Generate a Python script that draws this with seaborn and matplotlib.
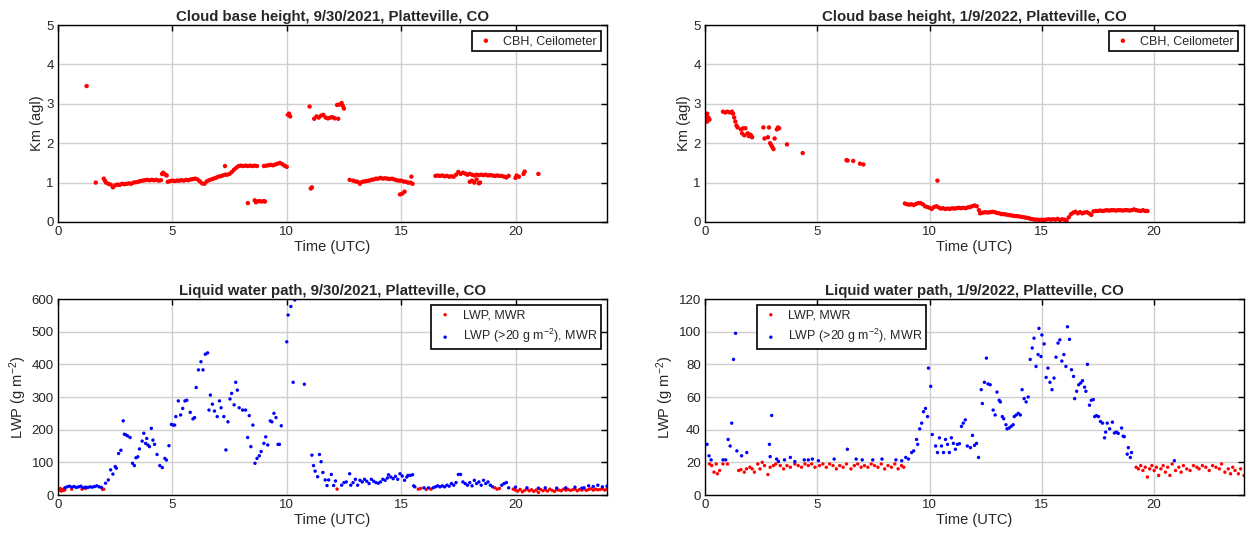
import pandas as pd
import matplotlib.pyplot as plt
import seaborn as sns

# ---- cloud base height, 9/30/2021 (hours UTC, km agl) ----
cbh1_time = [1.25, 1.65,
             2.0, 2.05, 2.1, 2.2, 2.3, 2.4, 2.5, 2.6, 2.7, 2.8, 2.9, 3.0, 3.1, 3.2, 3.3, 3.4, 3.5,
             3.6, 3.7, 3.8, 3.9, 4.0, 4.1, 4.2, 4.3, 4.4, 4.5, 4.55, 4.6, 4.7, 4.75, 4.8,
             4.9, 5.0, 5.1, 5.2, 5.3, 5.4, 5.5, 5.6, 5.7, 5.8, 5.9, 6.0, 6.1, 6.2, 6.3, 6.4,
             6.5, 6.6, 6.7, 6.8, 6.9, 7.0, 7.1, 7.2, 7.3, 7.3, 7.4, 7.5, 7.6, 7.7, 7.8, 7.9,
             8.0, 8.1, 8.2, 8.3, 8.4, 8.5, 8.6, 8.7,
             8.3, 8.6, 8.65, 8.7, 8.8, 8.9, 9.0, 9.05,
             9.0, 9.1, 9.2, 9.3, 9.4, 9.5, 9.6, 9.7, 9.8, 9.9, 10.0,
             10.05, 10.1, 10.15, 11.0, 11.05, 11.1,
             11.2, 11.3, 11.4, 11.5, 11.6, 11.7, 11.8, 11.9, 12.0, 12.1, 12.25,
             12.2, 12.3, 12.4, 12.45, 12.5,
             12.75, 12.9, 13.0, 13.1, 13.2, 13.3, 13.4, 13.5, 13.6, 13.7, 13.8, 13.9, 14.0,
             14.1, 14.2, 14.3, 14.4, 14.5, 14.6, 14.7, 14.8, 14.9, 15.0, 15.1, 15.2, 15.3,
             15.4, 15.5, 15.45, 14.95, 15.05, 15.15,
             16.5, 16.6, 16.7, 16.8, 16.9, 17.0, 17.1, 17.2, 17.3, 17.4, 17.5, 17.6, 17.7,
             17.8, 17.9, 18.0, 18.1, 18.2, 18.3, 18.4, 18.5, 18.6, 18.7, 18.8, 18.9, 19.0,
             19.1, 19.2, 19.3, 19.4, 19.5, 19.6, 19.7,
             18.0, 18.1, 18.2, 18.3, 18.4, 18.45,
             20.0, 20.05, 20.15, 20.35, 20.4, 21.0]
cbh1_km = [3.45, 1.0,
           1.1, 1.05, 1.0, 0.97, 0.95, 0.88, 0.93, 0.95, 0.94, 0.97, 0.96, 0.97, 0.98, 0.97, 1.0, 1.01, 1.02,
           1.04, 1.05, 1.06, 1.07, 1.06, 1.07, 1.06, 1.07, 1.05, 1.06, 1.22, 1.25, 1.2, 1.18, 1.02,
           1.04, 1.05, 1.04, 1.05, 1.05, 1.06, 1.05, 1.07, 1.06, 1.08, 1.09, 1.1, 1.08, 1.03, 0.98, 0.97,
           1.03, 1.06, 1.08, 1.1, 1.12, 1.15, 1.16, 1.18, 1.2, 1.42, 1.2, 1.22, 1.27, 1.33, 1.38, 1.42,
           1.43, 1.42, 1.43, 1.42, 1.43, 1.42, 1.43, 1.42,
           0.48, 0.55, 0.5, 0.52, 0.53, 0.52, 0.53, 0.52,
           1.42, 1.43, 1.44, 1.45, 1.44, 1.46, 1.48, 1.5, 1.47, 1.43, 1.4,
           2.72, 2.75, 2.68, 2.93, 0.85, 0.88,
           2.62, 2.68, 2.65, 2.7, 2.72, 2.65, 2.63, 2.65, 2.66, 2.63, 2.62,
           2.97, 2.98, 3.02, 2.95, 2.88,
           1.07, 1.05, 1.03, 1.02, 0.97, 1.02, 1.03, 1.04, 1.05, 1.07, 1.08, 1.1, 1.1,
           1.12, 1.1, 1.11, 1.1, 1.09, 1.1, 1.08, 1.06, 1.05, 1.05, 1.03, 1.02, 1.0,
           1.0, 0.97, 1.15, 0.7, 0.72, 0.77,
           1.17, 1.18, 1.17, 1.18, 1.16, 1.17, 1.15, 1.16, 1.15, 1.2, 1.27, 1.22, 1.25,
           1.23, 1.2, 1.22, 1.2, 1.18, 1.2, 1.19, 1.2, 1.19, 1.2, 1.18, 1.19, 1.18,
           1.17, 1.18, 1.17, 1.17, 1.15, 1.13, 1.17,
           1.02, 1.05, 1.0, 1.08, 0.98, 1.0,
           1.12, 1.18, 1.15, 1.22, 1.28, 1.22]

# ---- cloud base height, 1/9/2022 ----
cbh2_time = [0.0, 0.05, 0.1, 0.15, 0.2, 0.1,
             0.8, 0.9, 1.0, 1.1, 1.2, 1.25, 1.3, 1.35, 1.4, 1.45,
             1.6, 1.65, 1.7, 1.8, 1.75, 1.9, 1.95, 2.0, 2.05, 2.1,
             2.6, 2.65, 2.85, 2.8, 2.9, 2.95, 3.0, 3.05, 3.1, 3.2, 3.25, 3.3,
             3.65, 4.35, 6.3, 6.35, 6.6, 6.9, 7.05,
             8.9, 9.0, 9.1, 9.2, 9.3, 9.4, 9.5, 9.6, 9.7, 9.8, 9.9, 10.0, 10.1, 10.2, 10.3,
             10.35, 10.4, 10.5, 10.6, 10.7, 10.8, 10.9, 11.0, 11.1, 11.2, 11.3, 11.4, 11.5,
             11.6, 11.7, 11.8, 11.9, 12.0, 12.1, 12.2, 12.25, 12.3, 12.4, 12.5, 12.6, 12.7,
             12.8, 12.9, 13.0, 13.1, 13.2, 13.3, 13.4, 13.5, 13.6, 13.7, 13.8, 13.9, 14.0,
             14.1, 14.2, 14.3, 14.4, 14.5, 14.6, 14.7, 14.8, 14.9, 15.0, 15.1, 15.2, 15.3,
             15.4, 15.5, 15.6, 15.7, 15.8, 15.9, 16.0, 16.1, 16.2, 16.3, 16.4, 16.5, 16.6,
             16.7, 16.8, 16.9, 17.0, 17.1, 17.2, 17.3, 17.4, 17.5, 17.6, 17.7, 17.8, 17.9,
             18.0, 18.1, 18.2, 18.3, 18.4, 18.5, 18.6, 18.7, 18.8, 18.9, 19.0, 19.1, 19.2,
             19.3, 19.4, 19.5, 19.6, 19.7]
cbh2_km = [2.6, 2.7, 2.75, 2.65, 2.6, 2.55,
           2.8, 2.78, 2.8, 2.78, 2.8, 2.75, 2.65, 2.55, 2.45, 2.4,
           2.35, 2.25, 2.38, 2.38, 2.2, 2.25, 2.18, 2.22, 2.2, 2.15,
           2.4, 2.12, 2.4, 2.15, 2.0, 1.95, 1.9, 1.85, 2.12, 2.35, 2.4, 2.38,
           1.97, 1.75, 1.57, 1.56, 1.55, 1.48, 1.46,
           0.47, 0.45, 0.44, 0.45, 0.43, 0.46, 0.48, 0.48, 0.45, 0.4, 0.38, 0.36, 0.33, 0.38, 0.4,
           1.05, 0.37, 0.34, 0.35, 0.33, 0.34, 0.33, 0.35, 0.34, 0.35, 0.36, 0.35, 0.36,
           0.35, 0.37, 0.38, 0.4, 0.42, 0.4, 0.3, 0.22, 0.23, 0.24, 0.25, 0.24, 0.25,
           0.26, 0.25, 0.23, 0.22, 0.2, 0.2, 0.19, 0.18, 0.17, 0.16, 0.15, 0.15, 0.14,
           0.13, 0.12, 0.11, 0.1, 0.08, 0.07, 0.06, 0.06, 0.05, 0.06, 0.05, 0.06, 0.07,
           0.06, 0.07, 0.06, 0.08, 0.05, 0.07, 0.06, 0.04, 0.12, 0.2, 0.24, 0.26, 0.22,
           0.25, 0.22, 0.24, 0.25, 0.22, 0.18, 0.27, 0.28, 0.28, 0.29, 0.28, 0.29, 0.3,
           0.29, 0.3, 0.3, 0.29, 0.3, 0.3, 0.29, 0.3, 0.3, 0.29, 0.3, 0.32, 0.3,
           0.29, 0.28, 0.3, 0.28, 0.28]

# ---- liquid water path, 9/30/2021 (g m-2) ----
lwp1_red_time = [0.0, 0.05, 0.1, 0.15, 0.2, 0.25, 0.3, 0.6, 1.05, 1.2, 1.95, 2.0, 12.2,
                 15.75, 15.85, 16.1, 16.3, 19.1, 19.2, 19.3, 19.9,
                 20.0, 20.1, 20.2, 20.3, 20.4, 20.5, 20.6, 20.7, 20.8, 20.9, 21.0, 21.1, 21.2,
                 21.3, 21.4, 21.5, 21.6, 21.7, 21.8, 21.9, 22.0, 22.1, 22.2, 22.3, 22.4, 22.5,
                 22.6, 22.7, 22.8, 22.9, 23.0, 23.1, 23.2, 23.3, 23.4, 23.5, 23.6, 23.7, 23.8,
                 23.9, 24.0]
lwp1_red = [18, 15, 20, 12, 17, 14, 16, 18, 18, 20, 17, 18, 18,
            18, 20, 17, 18, 22, 18, 20, 18,
            15, 12, 17, 10, 14, 18, 13, 16, 11, 15, 8, 17, 13,
            16, 12, 18, 14, 11, 16, 15, 13, 18, 15, 17, 14, 16,
            18, 13, 17, 15, 18, 14, 17, 19, 15, 18, 16, 17, 19,
            15, 18]
lwp1_blue_time = [0.3, 0.4, 0.5, 0.6, 0.7, 0.8, 0.9, 1.0, 1.1, 1.2, 1.3, 1.4, 1.5, 1.6, 1.7, 1.8, 1.9,
                  2.08, 2.2, 2.3, 2.4, 2.5, 2.55, 2.65, 2.75, 2.85, 2.9, 2.97, 3.04, 3.15, 3.26,
                  3.34, 3.41, 3.49, 3.56, 3.68, 3.75, 3.83, 3.88, 3.93, 4.0, 4.08, 4.15, 4.22,
                  4.33, 4.45, 4.56, 4.67, 4.74, 4.85, 4.96, 5.04, 5.1, 5.15, 5.26, 5.36, 5.45,
                  5.55, 5.63, 5.78, 5.9, 5.97, 6.04, 6.14, 6.25, 6.34, 6.44, 6.54, 6.6, 6.66,
                  6.75, 6.84, 6.96, 7.06, 7.13, 7.25, 7.34, 7.43, 7.52, 7.59, 7.7, 7.77, 7.84,
                  7.92, 8.07, 8.2, 8.29, 8.36, 8.43, 8.52, 8.61, 8.7, 8.8, 8.88, 9.0, 9.08, 9.17,
                  9.28, 9.35, 9.44, 9.53, 9.62, 9.68, 9.76, 10.0, 10.06, 10.18, 10.35, 10.28,
                  10.77, 11.1, 11.17, 11.24, 11.35, 11.43, 11.5, 11.58, 11.68, 11.76, 11.83,
                  11.95, 12.05, 12.13,
                  12.4, 12.5, 12.6, 12.75, 12.8, 12.9, 13.0, 13.1, 13.2, 13.3, 13.4, 13.5, 13.6,
                  13.7, 13.8, 13.9, 14.0, 14.1, 14.2, 14.3, 14.4, 14.45, 14.55, 14.65, 14.75,
                  14.85, 14.95, 15.05, 15.15, 15.25, 15.3, 15.4, 15.5,
                  15.55, 15.6, 16.0, 16.2, 16.4, 16.5, 16.6, 16.7, 16.8, 16.9, 17.0, 17.1, 17.2,
                  17.3, 17.4, 17.5, 17.6, 17.7, 17.8, 17.9, 18.0, 18.1, 18.2, 18.3, 18.4, 18.5,
                  18.6, 18.7, 18.8, 18.9, 19.0, 19.4, 19.5, 19.6, 19.7,
                  20.0, 20.5, 21.0, 21.3, 21.8, 22.2, 22.6, 22.9, 23.0, 23.2, 23.4, 23.6, 23.8, 24.0]
lwp1_blue = [22, 25, 27, 24, 26, 23, 25, 27, 22, 24, 23, 25, 24, 26, 28, 25, 23,
             36, 46, 77, 64, 87, 82, 127, 137, 227, 186, 184, 181, 176, 97,
             90, 114, 117, 141, 165, 189, 158, 173, 153, 148, 204, 168, 155,
             124, 90, 84, 112, 107, 151, 216, 214, 214, 240, 288, 245, 265,
             288, 290, 253, 233, 237, 329, 383, 408, 383, 431, 435, 260, 306,
             278, 257, 240, 288, 267, 240, 138, 224, 294, 311, 276, 345, 321,
             267, 260, 260, 176, 243, 148, 214, 97, 112, 120, 133, 158, 178, 153,
             227, 224, 250, 237, 155, 155, 212, 469, 551, 577, 597, 345,
             339, 122, 90, 73, 56, 124, 102, 69, 46, 29, 46,
             63, 29, 43,
             30, 38, 40, 65, 30, 38, 48, 30, 45, 40, 48, 42, 35,
             48, 42, 38, 36, 40, 48, 45, 52, 62, 55, 50, 57,
             48, 65, 58, 45, 55, 60, 60, 62,
             28, 25, 22, 22, 22, 25, 28, 25, 28, 25, 30, 27, 35,
             30, 38, 63, 63, 40, 35, 30, 38, 28, 45, 35, 40, 30,
             45, 35, 40, 30, 25, 30, 35, 38, 22,
             24, 22, 21, 22, 21, 22, 24, 21, 22, 28, 26, 30, 25, 27]

# ---- liquid water path, 1/9/2022 ----
lwp2_red_time = [0.2, 0.3, 0.4, 0.5, 0.55, 0.65, 0.8, 1.0, 1.5, 1.6, 1.75, 1.85, 2.0, 2.1,
                 2.2, 2.35, 2.45, 2.55, 2.65, 2.8, 2.9, 3.05, 3.15, 3.35, 3.5, 3.65, 3.8, 4.0,
                 4.15, 4.3, 4.45, 4.6, 4.75, 4.9, 5.1, 5.25, 5.4, 5.55, 5.7, 5.85, 6.0, 6.15,
                 6.3, 6.5, 6.65, 6.8, 6.95, 7.1, 7.25, 7.4, 7.55, 7.7, 7.85, 8.0, 8.15, 8.3,
                 8.45, 8.6, 8.75, 8.85,
                 19.2, 19.3, 19.4, 19.5, 19.6, 19.7, 19.8, 19.9, 20.0, 20.1, 20.2, 20.3, 20.4,
                 20.5, 20.6, 20.7, 20.8, 20.95, 21.1, 21.2, 21.3, 21.45, 21.6, 21.75, 21.9,
                 22.0, 22.15, 22.3, 22.45, 22.6, 22.75, 22.9, 23.0, 23.15, 23.3, 23.4, 23.5,
                 23.6, 23.75, 23.85, 24.0]
lwp2_red = [19, 18, 14, 19, 13, 15, 19, 19, 15, 15.5, 14, 16, 17, 16,
            14, 19, 16, 20, 18, 12.5, 17, 18, 19, 18, 16, 18, 17, 19,
            18, 17, 19, 18, 19, 17, 18, 19, 17, 19, 18, 16, 18, 17,
            19, 16, 18, 19, 17, 18, 17, 19, 18, 17, 19, 16, 18, 17,
            19, 16, 18, 17,
            17, 16, 18, 15, 17, 11, 16, 18, 15, 17, 12, 16, 18,
            14, 17, 12, 19, 15, 17, 14, 18, 16, 15, 18, 17,
            16, 18, 17, 15, 18, 17, 16, 19, 14, 16, 13, 17,
            15, 13, 16, 12]
lwp2_blue_time = [0.09, 0.18, 0.27, 0.8, 0.92, 1.03, 1.12, 1.19, 1.27, 1.36, 1.42, 1.63, 1.86,
                  2.87, 2.97, 2.9, 3.19, 3.27, 3.54, 3.8, 4.0, 4.42, 4.6, 4.78, 5.05, 5.75,
                  6.34, 6.73, 7.0, 7.47, 7.88, 8.5, 8.76, 8.94, 9.06, 9.2, 9.29, 9.42, 9.47,
                  9.56, 9.65, 9.73, 9.82, 9.91, 9.95, 10.05, 10.12, 10.27, 10.35, 10.44, 10.53,
                  10.62, 10.71, 10.8, 10.88, 10.97, 11.06, 11.15, 11.24, 11.33, 11.42, 11.5,
                  11.59, 11.68, 11.82, 11.91, 12.0, 12.09, 12.18, 12.3, 12.35, 12.44, 12.53,
                  12.6, 12.7, 12.83, 12.92, 13.0, 13.1, 13.15, 13.24, 13.3, 13.4, 13.45, 13.54,
                  13.63, 13.72, 13.77, 13.86, 13.95, 14.04, 14.12, 14.21, 14.3, 14.39, 14.48,
                  14.57, 14.65, 14.74, 14.83, 14.87, 14.96, 15.0, 15.1, 15.19, 15.27, 15.36,
                  15.45, 15.54, 15.63, 15.72, 15.8, 15.89, 15.98, 16.07, 16.14, 16.23, 16.32,
                  16.41, 16.46, 16.55, 16.64, 16.73, 16.81, 16.9, 16.96, 17.03, 17.12, 17.2,
                  17.29, 17.35, 17.43, 17.52, 17.61, 17.7, 17.79, 17.84, 17.91, 18.02, 18.14,
                  18.23, 18.32, 18.4, 18.55, 18.62, 18.67, 18.8, 18.85, 18.94, 18.99, 20.9]
lwp2_blue = [31, 24, 21.5, 21.5, 21.5, 34, 30, 44, 83, 99, 27, 24, 26,
             31, 48.7, 23.5, 22, 20.5, 21.5, 23, 20.5, 21.5, 21.5, 22, 21, 22,
             28, 22, 21.5, 21.5, 22, 21.5, 21, 23, 22, 26, 27, 34, 31,
             40.5, 44, 51, 53, 48, 77.7, 66.5, 37, 30, 26, 35, 30,
             26, 34, 31, 26, 35, 31.6, 28, 31, 31.4, 42, 44,
             46, 30, 29, 36.5, 30.4, 31.6, 23, 64.5, 56, 69, 83.8,
             68, 67.5, 52, 49, 63, 58, 57, 48, 46.7, 43, 40.5, 41,
             42, 43, 48, 49, 50, 49, 64.5, 59, 57, 60, 83,
             90, 96, 78.7, 86, 102, 84.8, 98, 92.5, 72, 77.7, 69,
             64.5, 71.6, 84.4, 93, 95, 82, 86, 78.7, 103, 95.3, 76.7,
             72.6, 59, 63.5, 67.5, 68.6, 70, 66, 63.5, 80, 55, 58,
             58.4, 48, 48.6, 48, 45, 44, 35, 38.5, 44, 40.5, 44.6,
             38, 38.5, 37.7, 41, 36, 35.7, 25, 29, 23, 26, 21]

sns.set_theme(style="whitegrid")
plt.rcParams['font.family'] = ['Liberation Sans', 'DejaVu Sans']
plt.rcParams['mathtext.fontset'] = 'custom'
plt.rcParams['mathtext.rm'] = 'Liberation Sans'
plt.rcParams['mathtext.it'] = 'Liberation Sans:italic'
plt.rcParams['mathtext.default'] = 'regular'

fig = plt.figure(figsize=(12.48, 5.44), dpi=100)
W, H = 1248, 544


def box(l, t, r, b):
    return [l / W, 1 - b / H, (r - l) / W, (b - t) / H]


def matlab_look(ax, title, ylabel, ylim, yticks):
    ax.set_xlim(0, 24)
    ax.set_xticks([0, 5, 10, 15, 20])
    ax.set_ylim(*ylim)
    ax.set_yticks(yticks)
    ax.set_title(title, fontsize=10.8, fontweight='bold', pad=3)
    ax.set_xlabel('Time (UTC)', fontsize=10.5, labelpad=1)
    ax.set_ylabel(ylabel, fontsize=10.5, labelpad=2)
    ax.set_facecolor('white')
    ax.grid(True, color='#d0d0d0', linewidth=1.0)
    ax.set_axisbelow(True)
    for s in ax.spines.values():
        s.set_color('black')
        s.set_linewidth(1.0)
    ax.tick_params(direction='in', top=True, right=True, length=4, width=1,
                   color='black', labelcolor='#262626', labelsize=9.5, pad=3)


def legend(ax, **kw):
    leg = ax.legend(fontsize=9, frameon=True, fancybox=False, framealpha=1,
                    edgecolor='black', borderpad=0.3, handletextpad=0.6,
                    handlelength=1.6, borderaxespad=0.5, markerscale=1.0, **kw)
    leg.get_frame().set_linewidth(1.2)


dot = dict(s=6, linewidth=0, edgecolor='none')
cdot = dict(s=10, linewidth=0, edgecolor='none')

# top left
ax = fig.add_axes(box(58, 25, 607, 222))
df = pd.DataFrame({'t': cbh1_time, 'km': cbh1_km})
sns.scatterplot(data=df, x='t', y='km', color='red', label='CBH, Ceilometer', ax=ax, **cdot)
matlab_look(ax, 'Cloud base height, 9/30/2021, Platteville, CO', 'Km (agl)', (0, 5), range(6))
legend(ax, loc='upper right')

# top right
ax = fig.add_axes(box(705, 25, 1244, 222))
df = pd.DataFrame({'t': cbh2_time, 'km': cbh2_km})
sns.scatterplot(data=df, x='t', y='km', color='red', label='CBH, Ceilometer', ax=ax, **cdot)
matlab_look(ax, 'Cloud base height, 1/9/2022, Platteville, CO', 'Km (agl)', (0, 5), range(6))
legend(ax, loc='upper right')

# bottom left
ax = fig.add_axes(box(58, 299, 607, 495))
sns.scatterplot(x=lwp1_red_time, y=lwp1_red, color='red', label='LWP, MWR', ax=ax, **dot)
sns.scatterplot(x=lwp1_blue_time, y=lwp1_blue, color='blue',
                label='LWP (>20 g m$^{-2}$), MWR', ax=ax, **dot)
matlab_look(ax, 'Liquid water path, 9/30/2021, Platteville, CO', 'LWP (g m$^{-2}$)',
            (0, 600), range(0, 601, 100))
legend(ax, loc='upper right')

# bottom right
ax = fig.add_axes(box(705, 299, 1244, 495))
sns.scatterplot(x=lwp2_red_time, y=lwp2_red, color='red', label='LWP, MWR', ax=ax, **dot)
sns.scatterplot(x=lwp2_blue_time, y=lwp2_blue, color='blue',
                label='LWP (>20 g m$^{-2}$), MWR', ax=ax, **dot)
matlab_look(ax, 'Liquid water path, 1/9/2022, Platteville, CO', 'LWP (g m$^{-2}$)',
            (0, 120), range(0, 121, 20))
legend(ax, loc='upper left', bbox_to_anchor=(0.085, 1.0))

fig.savefig('out.png', dpi=100)
